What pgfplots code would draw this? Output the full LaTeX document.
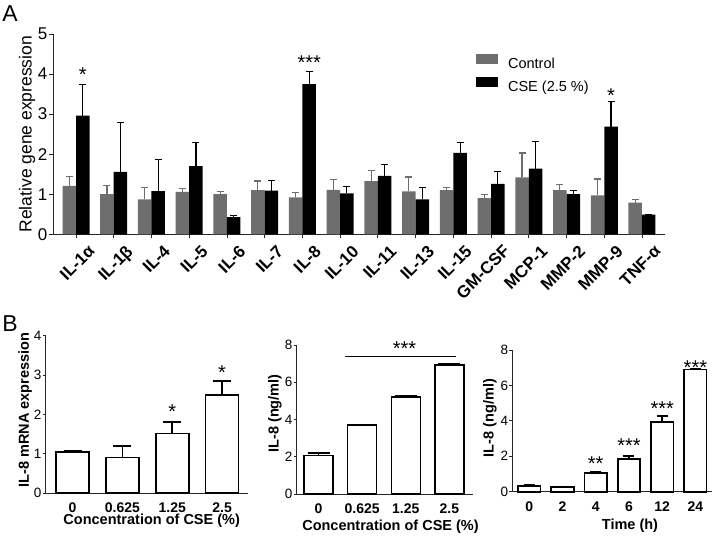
\documentclass[border=0pt]{standalone}
\usepackage{fontspec}
\setmainfont{Liberation Sans}
\usepackage{pgfplots}
\pgfplotsset{compat=1.18}
\definecolor{ctrl}{RGB}{110,110,110}

\pgfplotstableread{
x c ce s se
0 1.21 0.24 2.96 0.78
1 1.00 0.22 1.56 1.22
2 0.87 0.29 1.08 0.79
3 1.06 0.09 1.70 0.59
4 1.00 0.07 0.43 0.04
5 1.10 0.23 1.09 0.25
6 0.92 0.13 3.75 0.32
7 1.11 0.26 1.02 0.18
8 1.33 0.27 1.46 0.28
9 1.07 0.36 0.87 0.30
10 1.10 0.07 2.03 0.26
11 0.90 0.09 1.26 0.31
12 1.42 0.61 1.64 0.67
13 1.10 0.14 1.00 0.10
14 0.97 0.41 2.69 0.62
15 0.79 0.08 0.49 0.01
}\genes

\pgfplotstableread{
x y e
0 1.05 0.03
1 0.90 0.30
2 1.51 0.30
3 2.49 0.36
}\mrna

\pgfplotstableread{
x y e
0 2.06 0.14
1 3.70 0.04
2 5.22 0.06
3 6.92 0.06
}\conc

\pgfplotstableread{
x y e
0 0.32 0.06
1 0.28 0.02
2 1.05 0.10
3 1.85 0.18
4 3.95 0.32
5 6.89 0.06
}\timec

\pgfplotsset{
  basestyle/.style={
    scale only axis,
    anchor=south west,
    axis lines=left,
    axis line style={-, line width=0.8pt, black!85},
    tick style={line width=0.8pt, black!85},
    tick align=outside,
    /pgf/number format/assume math mode=true,
    ymin=0,
    clip=false,
  },
  bbar/.style={ybar, bar width=#1, fill=white, draw=black, line width=1.6pt,
    error bars/.cd, y dir=plus, y explicit,
    error bar style={line width=1.6pt, black}},
}

\begin{document}
\begin{tikzpicture}
\useasboundingbox (0pt,0pt) rectangle (714pt,-537pt);
\node[font=\fontsize{23}{26}\selectfont] at (10pt,-14pt) {A};
\node[font=\fontsize{23}{26}\selectfont] at (10pt,-324pt) {B};

% ---------------- Panel A ----------------
\begin{axis}[basestyle,
  at={(53pt,-234.3pt)}, width=612pt, height=200.3pt,
  xmin=-0.61, xmax=15.61, ymax=5,
  ytick={0,1,2,3,4,5},
  xtick={0,...,15},
  xticklabels={IL-1α,IL-1β,IL-4,IL-5,IL-6,IL-7,IL-8,IL-10,IL-11,IL-13,IL-15,GM-CSF,MCP-1,MMP-2,MMP-9,TNF-α},
  major tick length=4pt,
  xticklabel style={font=\bfseries\fontsize{17}{20}\selectfont, rotate=45, anchor=north east, inner sep=0pt, xshift=4pt, yshift=-12pt},
  yticklabel style={font=\fontsize{17}{20}\selectfont, inner sep=1.5pt},
  ylabel={Relative gene expression},
  ylabel style={font=\fontsize{17.5}{20}\selectfont, at={(axis description cs:-0.0425,0.5)}, anchor=center},
  ybar=0pt, bar width=13.5pt,
  legend cell align=left,
  legend style={draw=none, fill=none, at={(axis description cs:0.691,0.903)}, anchor=north west,
    font=\fontsize{14.5}{17}\selectfont, inner sep=0pt, row sep=7pt, column sep=10pt,
    nodes={inner sep=0pt}},
  legend image code/.code={\fill[#1] (0pt,0pt) rectangle (22pt,10pt);},
]
\addplot[fill=ctrl, draw=none,
  error bars/.cd, y dir=plus, y explicit,
  error bar style={line width=1.1pt, ctrl},
  error mark options={rotate=90, mark size=3.5pt, line width=1.1pt, ctrl}]
  table[x=x, y=c, y error=ce] {\genes};
\addlegendentry{Control}
\addplot[fill=black, draw=none,
  error bars/.cd, y dir=plus, y explicit,
  error bar style={line width=1.1pt, black},
  error mark options={rotate=90, mark size=3.5pt, line width=1.1pt, black}]
  table[x=x, y=s, y error=se] {\genes};
\addlegendentry{CSE (2.5 \%)}
\node[font=\fontsize{20}{22}\selectfont, anchor=base] at (axis cs:0.18,3.81) {*};
\node[font=\fontsize{20}{22}\selectfont, anchor=base] at (axis cs:6.18,4.11) {***};
\node[font=\fontsize{20}{22}\selectfont, anchor=base] at (axis cs:14.18,3.29) {*};
\end{axis}

% ---------------- Panel B1 ----------------
\begin{axis}[basestyle,
  at={(45.7pt,-493pt)}, width=202.3pt, height=157.3pt,
  xmin=-0.54, xmax=3.52, ymax=4,
  ytick={0,1,2,3,4}, xtick={0,1,2,3},
  xticklabels={0,0.625,1.25,2.5},
  x tick style={draw=none}, major tick length=3pt,
  xticklabel style={font=\bfseries\fontsize{14}{17}\selectfont, inner sep=1pt, yshift=-6pt},
  yticklabel style={font=\fontsize{13.5}{16}\selectfont, inner sep=1pt},
  ylabel={\bfseries IL-8 mRNA expression},
  ylabel style={font=\fontsize{14.5}{17}\selectfont, at={(axis description cs:-0.102,0.528)}, anchor=center},
]
\addplot[bbar=33pt, error mark options={rotate=90, mark size=9pt, line width=1.6pt, black}]
  table[x=x, y=y, y error=e] {\mrna};
\node[font=\fontsize{20}{22}\selectfont, anchor=base] at (axis cs:2,1.895) {*};
\node[font=\fontsize{20}{22}\selectfont, anchor=base] at (axis cs:3,2.875) {*};
\end{axis}
\node[font=\bfseries\fontsize{14.5}{17}\selectfont] at (151.7pt,-521pt) {Concentration of CSE (\%)};

% ---------------- Panel B2 ----------------
\begin{axis}[basestyle,
  at={(296.7pt,-494pt)}, width=176.3pt, height=149pt,
  xmin=-0.5, xmax=3.54, ymax=8,
  ytick={0,2,4,6,8}, xtick={0,1,2,3},
  xticklabels={0,0.625,1.25,2.5},
  x tick style={draw=none}, major tick length=3pt,
  xticklabel style={font=\bfseries\fontsize{14}{17}\selectfont, inner sep=1pt, yshift=-6pt},
  yticklabel style={font=\fontsize{13.5}{16}\selectfont, inner sep=1pt},
  ylabel={\bfseries IL-8 (ng/ml)},
  ylabel style={font=\fontsize{14.5}{17}\selectfont, at={(axis description cs:-0.123,0.54)}, anchor=center},
]
\addplot[bbar=29pt, error mark options={rotate=90, mark size=11pt, line width=1.6pt, black}]
  table[x=x, y=y, y error=e] {\conc};
\draw[line width=0.8pt] (axis cs:0.6,7.4) -- (axis cs:3.15,7.4);
\node[font=\fontsize{20}{22}\selectfont, anchor=base] at (axis cs:1.97,7.43) {***};
\end{axis}
\node[font=\bfseries\fontsize{14.5}{17}\selectfont] at (390.5pt,-527pt) {Concentration of CSE (\%)};

% ---------------- Panel B3 ----------------
\begin{axis}[basestyle,
  at={(512.3pt,-491.7pt)}, width=199.4pt, height=141.7pt,
  xmin=-0.51, xmax=5.49, ymax=8,
  ytick={0,2,4,6,8}, xtick={0,...,5},
  xticklabels={0,2,4,6,12,24},
  x tick style={draw=none}, major tick length=3pt,
  xticklabel style={font=\bfseries\fontsize{14}{17}\selectfont, inner sep=1pt, yshift=-6pt},
  yticklabel style={font=\fontsize{13.5}{16}\selectfont, inner sep=1pt},
  ylabel={\bfseries IL-8 (ng/ml)},
  ylabel style={font=\fontsize{14.5}{17}\selectfont, at={(axis description cs:-0.112,0.52)}, anchor=center},
]
\addplot[bbar=22.5pt, error mark options={rotate=90, mark size=5.5pt, line width=1.6pt, black}]
  table[x=x, y=y, y error=e] {\timec};
\node[font=\fontsize{20}{22}\selectfont, anchor=base] at (axis cs:2,1.22) {**};
\node[font=\fontsize{20}{22}\selectfont, anchor=base] at (axis cs:3,2.2) {***};
\node[font=\fontsize{20}{22}\selectfont, anchor=base] at (axis cs:4,4.33) {***};
\node[font=\fontsize{20}{22}\selectfont, anchor=base] at (axis cs:5,6.63) {***};
\end{axis}
\node[font=\bfseries\fontsize{14.5}{17}\selectfont] at (630pt,-526pt) {Time (h)};
\end{tikzpicture}
\end{document}
